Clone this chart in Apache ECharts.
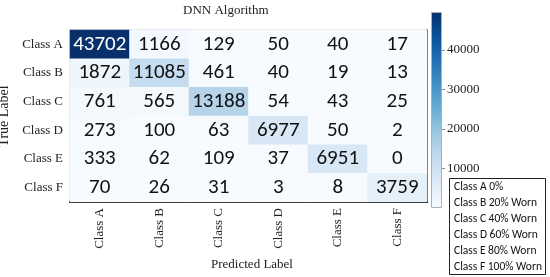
<!DOCTYPE html>
<html>
<head>
<meta charset="utf-8">
<script src="https://cdn.jsdelivr.net/npm/echarts@6/dist/echarts.min.js"></script>
<style>html,body{margin:0;padding:0;background:#fff}#c{width:550px;height:277px}</style>
</head>
<body>
<div id="c"></div>
<script>
var classes = ['Class A', 'Class B', 'Class C', 'Class D', 'Class E', 'Class F'];
var rowA = [43702, 1166, 129, 50, 40, 17];
var rowB = [1872, 11085, 461, 40, 19, 13];
var rowC = [761, 565, 13188, 54, 43, 25];
var rowD = [273, 100, 63, 6977, 50, 2];
var rowE = [333, 62, 109, 37, 6951, 0];
var rowF = [70, 26, 31, 3, 8, 3759];
var legendLines = ['Class A 0%', 'Class B 20% Worn', 'Class C 40% Worn', 'Class D 60% Worn', 'Class E 80% Worn', 'Class F 100% Worn'];
var colorbarMax = 49600;
var colorbarInterval = 10000;
var colorMin = 0;
var colorMax = 43702;

var blues = ['#f7fbff', '#deebf7', '#c6dbef', '#9ecae1', '#6baed6', '#4292c6', '#2171b5', '#08519c', '#08306b'];
var rows = [rowA, rowB, rowC, rowD, rowE, rowF];
var data = [];
rows.forEach(function (r, yi) {
  r.forEach(function (v, xi) {
    var item = { value: [xi, yi, v] };
    if (v > 30000) item.label = { color: '#ffffff' };
    data.push(item);
  });
});

var serif = "'Liberation Serif', 'Times New Roman', serif";
var calibri = "Carlito, 'Open Sans', sans-serif";
var chart = echarts.init(document.getElementById('c'), null, { renderer: 'canvas' });
chart.setOption({
  animation: false,
  backgroundColor: '#ffffff',
  title: [
    { text: 'DNN Algorithm', left: 178, top: -1,
      textStyle: { fontFamily: serif, fontSize: 13, fontWeight: 'normal', color: '#222' } },
    { text: legendLines.join('\n'), left: 449, top: 178,
      borderColor: '#222', borderWidth: 1, padding: [1, 4, 0, 5],
      textStyle: { fontFamily: calibri, fontSize: 11.5, lineHeight: 16, fontWeight: 'normal', color: '#111' } }
  ],
  grid: [
    { left: 70, top: 30, width: 357, height: 172, show: true, borderColor: '#cccccc', borderWidth: 1,
      containLabel: false, outerBoundsMode: 'none' },
    { left: 431, top: 12, width: 11, height: 196, containLabel: false, outerBoundsMode: 'none' }
  ],
  visualMap: {
    show: false, seriesIndex: 0, min: colorMin, max: colorMax,
    inRange: { color: blues }
  },
  xAxis: [
    { type: 'category', gridIndex: 0, data: classes, position: 'bottom',
      axisLine: { lineStyle: { color: '#000', width: 2 } },
      axisTick: { show: false }, splitLine: { show: false },
      axisLabel: { rotate: 90, margin: 6, fontFamily: serif, fontSize: 13, color: '#222' },
      name: 'Predicted Label', nameLocation: 'middle', nameGap: 56,
      nameTextStyle: { fontFamily: serif, fontSize: 13, color: '#222', padding: [0, 0, 0, 7] } },
    { type: 'category', gridIndex: 1, data: [''], show: false }
  ],
  yAxis: [
    { type: 'category', gridIndex: 0, data: classes, inverse: true,
      axisLine: { lineStyle: { color: '#bbbbbb', width: 1 } },
      axisTick: { show: false }, splitLine: { show: false },
      axisLabel: { margin: 7, fontFamily: serif, fontSize: 13, color: '#222' },
      name: 'True Label', nameLocation: 'middle', nameGap: 56, nameRotate: 90,
      nameTextStyle: { fontFamily: serif, fontSize: 14, color: '#222' } },
    { type: 'category', gridIndex: 0, data: classes, inverse: true, position: 'right',
      axisLine: { lineStyle: { color: '#222', width: 1.5 } },
      axisTick: { show: false }, axisLabel: { show: false }, splitLine: { show: false } },
    { type: 'value', gridIndex: 1, min: 0, max: colorbarMax, interval: colorbarInterval, position: 'right',
      axisLine: { show: false },
      axisTick: { show: true, length: 3, lineStyle: { color: '#888' } },
      splitLine: { show: false },
      axisLabel: { margin: 5, showMinLabel: false, showMaxLabel: false, fontFamily: serif, fontSize: 13, color: '#222',
        formatter: function (v) { return String(v); } } }
  ],
  series: [
    { type: 'heatmap', xAxisIndex: 0, yAxisIndex: 0, data: data,
      itemStyle: { borderWidth: 0 },
      label: { show: true, fontFamily: calibri, fontSize: 21, color: '#111' } },
    { type: 'bar', xAxisIndex: 1, yAxisIndex: 2, data: [colorbarMax], barWidth: '100%',
      silent: true,
      itemStyle: {
        borderColor: '#b0b0b0', borderWidth: 1,
        color: new echarts.graphic.LinearGradient(0, 1, 0, 0, blues.map(function (c, i) {
          return { offset: i / (blues.length - 1), color: c };
        }))
      } }
  ]
});
</script>
</body>
</html>
